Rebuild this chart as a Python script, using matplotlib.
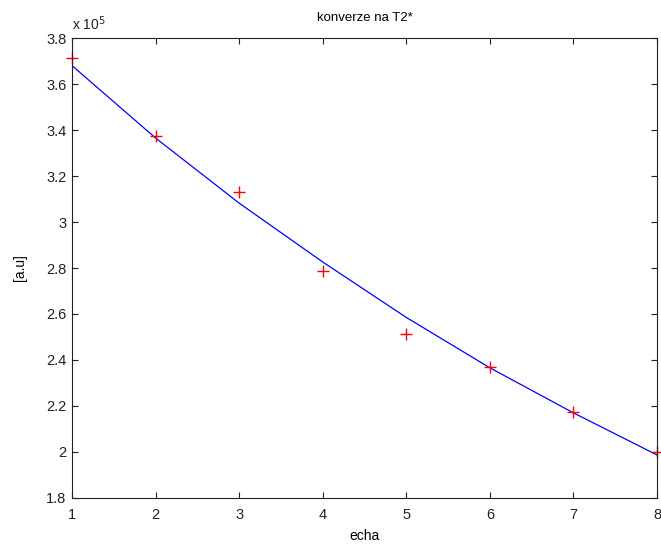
import matplotlib
matplotlib.use("Agg")
import matplotlib.pyplot as plt

plt.rcParams['font.family'] = ['Liberation Sans', 'DejaVu Sans']

echo = [1, 2, 3, 4, 5, 6, 7, 8]
measured = [3.713, 3.374, 3.130, 2.787, 2.513, 2.370, 2.174, 2.000]  # x 1e5
fit = [3.680, 3.365, 3.082, 2.826, 2.585, 2.366, 2.170, 1.987]       # x 1e5

xticks = [1, 2, 3, 4, 5, 6, 7, 8]
yticks = [1.8, 2.0, 2.2, 2.4, 2.6, 2.8, 3.0, 3.2, 3.4, 3.6, 3.8]
ytick_labels = ['1.8', '2', '2.2', '2.4', '2.6', '2.8', '3', '3.2', '3.4', '3.6', '3.8']

fig = plt.figure(figsize=(6.61, 5.44), dpi=100)
ax = fig.add_axes([0.109, 0.0846, 0.885, 0.8455])

ax.plot(echo, fit, color='#0000ff', linewidth=0.9)
ax.plot(echo, measured, linestyle='none', marker='+', color='#ff0000',
        markersize=9, markeredgewidth=1.0, clip_on=False)

ax.set_xlim(1, 8)
ax.set_ylim(1.8, 3.8)
ax.set_xticks(xticks)
ax.set_yticks(yticks)
ax.set_yticklabels(ytick_labels)
ax.tick_params(direction='in', top=True, right=True, length=4, width=0.8,
               labelsize=10.5, colors='#222222')
ax.tick_params(axis='x', pad=7)
ax.tick_params(axis='y', pad=4)
for s in ax.spines.values():
    s.set_linewidth(0.8)
    s.set_color('#222222')

ax.set_xlabel('echa', fontsize=10, labelpad=5)
ax.set_ylabel('[a.u]', fontsize=10, labelpad=14)
ax.set_title('konverze na T2*', fontsize=9.5, pad=12)
ax.text(0.0, 1.012, r'x 10$^{5}$', transform=ax.transAxes, fontsize=10,
        ha='left', va='bottom', color='#222222')

fig.savefig('out.png', dpi=100)
